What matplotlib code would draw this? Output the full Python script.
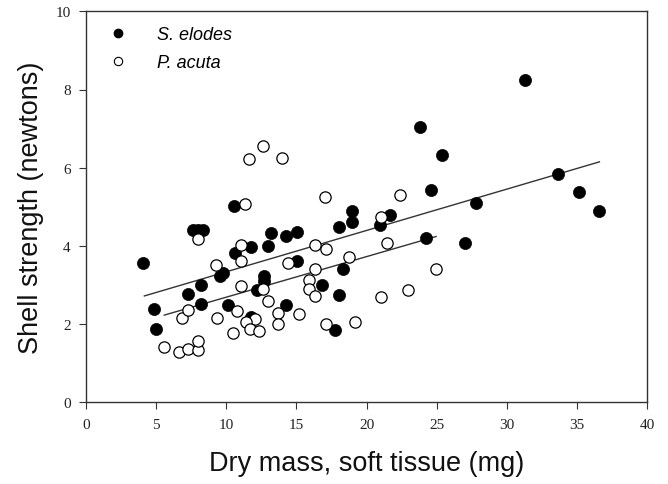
import matplotlib
matplotlib.use("Agg")
import matplotlib.pyplot as plt
from matplotlib.lines import Line2D

# S. elodes (filled)
elodes_x = [4.09, 4.85, 5.01, 7.25, 8.20, 8.18, 7.65, 8.01, 8.37, 9.56, 9.75, 10.11,
            10.56, 10.61, 11.75, 12.96, 13.20, 14.27, 15.05, 15.07, 12.72, 12.72, 12.22,
            14.29, 11.77, 16.81, 18.05, 17.74, 18.35, 18.02, 18.97, 18.97, 20.99, 21.68,
            23.82, 25.39, 24.61, 24.27, 27.03, 27.82, 31.31, 33.67, 35.14, 36.61]
elodes_y = [3.56, 2.38, 1.88, 2.78, 2.51, 2.99, 4.41, 4.41, 4.41, 3.23, 3.30, 2.49,
            5.03, 3.83, 3.97, 4.00, 4.34, 4.25, 4.35, 3.62, 3.22, 3.09, 2.88,
            2.48, 2.17, 3.01, 2.75, 1.85, 3.41, 4.48, 4.61, 4.88, 4.53, 4.78,
            7.05, 6.33, 5.42, 4.20, 4.07, 5.10, 8.24, 5.84, 5.37, 4.88]

# P. acuta (open)
acuta_x = [5.56, 6.61, 7.28, 8.01, 8.01, 6.85, 7.30, 9.32, 9.27, 7.97, 10.46, 10.75,
           11.06, 11.06, 11.06, 11.34, 11.65, 12.60, 14.00, 12.65, 13.00, 13.72, 15.17,
           12.03, 11.39, 11.70, 12.36, 13.69, 14.43, 15.93, 15.93, 16.33, 16.31, 16.31,
           17.12, 17.07, 18.78, 17.12, 19.21, 21.02, 21.49, 22.40, 24.96, 22.95, 21.02]
acuta_y = [1.41, 1.29, 1.36, 1.34, 1.56, 2.15, 2.36, 2.16, 3.50, 4.17, 1.76, 2.34,
           2.98, 3.62, 4.02, 5.06, 6.23, 6.55, 6.25, 2.89, 2.58, 2.29, 2.27,
           2.12, 2.05, 1.88, 1.82, 1.99, 3.57, 3.12, 2.91, 2.72, 3.41, 4.02,
           3.91, 5.26, 3.72, 1.99, 2.05, 4.75, 4.07, 5.29, 3.42, 2.86, 2.69]

# Regression line endpoints
elodes_fit_x = [4.16, 36.61]
elodes_fit_y = [2.72, 6.15]
acuta_fit_x = [5.58, 24.96]
acuta_fit_y = [2.23, 4.24]

x_ticks = [0, 5, 10, 15, 20, 25, 30, 35, 40]
y_ticks = [0, 2, 4, 6, 8, 10]

fig = plt.figure(figsize=(6.68, 4.85), dpi=100)
ax = fig.add_axes([86/668, 1 - 403.3/485, (647 - 86)/668, (403.3 - 12.3)/485])

ax.plot(elodes_fit_x, elodes_fit_y, color="#333333", lw=1.0, zorder=2)
ax.plot(acuta_fit_x, acuta_fit_y, color="#333333", lw=1.0, zorder=2)
ax.scatter(elodes_x, elodes_y, s=76, c="black", edgecolors="black", linewidths=0.5, zorder=3)
ax.scatter(acuta_x, acuta_y, s=66, facecolors="white", edgecolors="black", linewidths=0.9, zorder=3)

ax.set_xlim(0, 40)
ax.set_ylim(0, 10)
ax.set_xticks(x_ticks)
ax.set_yticks(y_ticks)
ax.set_xticklabels([str(t) for t in x_ticks], family="Liberation Serif", fontsize=11, color="#222222")
ax.set_yticklabels([str(t) for t in y_ticks], family="Liberation Serif", fontsize=11, color="#222222")
ax.tick_params(direction="out", length=5, width=0.8, color="#333333", pad=6)
for sp in ax.spines.values():
    sp.set_linewidth(1.0)
    sp.set_color("#333333")

ax.set_xlabel("Dry mass, soft tissue (mg)", family="Liberation Sans", fontsize=19.5, color="#111111", labelpad=14)
ax.set_ylabel("Shell strength (newtons)", family="Liberation Sans", fontsize=19.5, color="#111111", labelpad=8)

handles = [
    Line2D([], [], ls="none", marker="o", markersize=6, mfc="black", mec="black"),
    Line2D([], [], ls="none", marker="o", markersize=6, mfc="white", mec="black", mew=0.8),
]
ax.legend(handles, ["S. elodes", "P. acuta"], loc="upper left", bbox_to_anchor=(0.009, 1.003),
          frameon=False, prop={"family": "Liberation Sans", "style": "italic", "size": 13},
          handletextpad=1.55, labelspacing=0.58, handlelength=1.2)

fig.savefig("out.png", dpi=100)
